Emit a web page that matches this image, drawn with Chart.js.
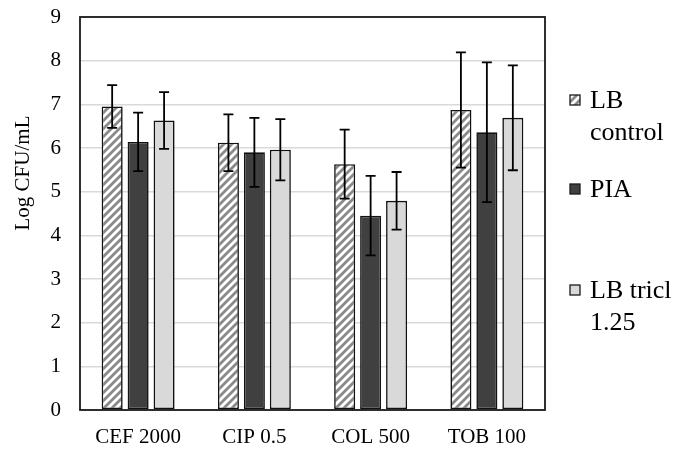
<!DOCTYPE html>
<html>
<head>
<meta charset="utf-8">
<script src="https://cdn.jsdelivr.net/npm/chart.js@4.4.1/dist/chart.umd.min.js"></script>
<style>
  html, body { margin: 0; padding: 0; background: #fff; }
  #wrap { width: 683px; height: 451px; }
</style>
</head>
<body>
<div id="wrap"><canvas id="chart"></canvas></div>
<script>
// Data
const categories = ['CEF 2000', 'CIP 0.5', 'COL 500', 'TOB 100'];
const seriesNames = [['LB', 'control'], ['PIA'], ['LB tricl', '1.25']];
const lbControl = [6.95, 6.12, 5.63, 6.87];
const lbControlErr = [0.49, 0.65, 0.79, 1.32];
const pia = [6.14, 5.90, 4.45, 6.36];
const piaErr = [0.67, 0.79, 0.91, 1.60];
const lbTricl = [6.63, 5.96, 4.79, 6.69];
const lbTriclErr = [0.65, 0.70, 0.66, 1.20];
const yTicks = [0, 1, 2, 3, 4, 5, 6, 7, 8, 9];
const yTitle = 'Log CFU/mL';

const FONT = "'Liberation Serif', 'Times New Roman', Times, serif";

// Diagonal stripe fill for the control series
function makeHatch() {
    const c = document.createElement('canvas');
    c.width = 8; c.height = 8;
    const g = c.getContext('2d');
    g.fillStyle = '#fff';
    g.fillRect(0, 0, 8, 8);
    g.strokeStyle = '#8a8a8a';
    g.lineWidth = 2.8;
    g.beginPath();
    g.moveTo(-2, 10); g.lineTo(10, -2);
    g.moveTo(-6, 6); g.lineTo(6, -6);
    g.moveTo(2, 14); g.lineTo(14, 2);
    g.stroke();
    return g.createPattern(c, 'repeat');
}
const hatch = makeHatch();

// Error bars drawn on top of each bar
const errorBars = {
    id: 'errorBars',
    afterDatasetsDraw(chart) {
        const ctx = chart.ctx;
        const y = chart.scales.y;
        ctx.save();
        ctx.strokeStyle = '#000';
        ctx.lineWidth = 1.8;
        chart.data.datasets.forEach((ds, i) => {
            const meta = chart.getDatasetMeta(i);
            meta.data.forEach((bar, j) => {
                const v = ds.data[j], e = ds.errors[j];
                const top = y.getPixelForValue(v + e);
                const bot = y.getPixelForValue(v - e);
                ctx.beginPath();
                ctx.moveTo(bar.x, top); ctx.lineTo(bar.x, bot);
                ctx.moveTo(bar.x - 5, top); ctx.lineTo(bar.x + 5, top);
                ctx.moveTo(bar.x - 5, bot); ctx.lineTo(bar.x + 5, bot);
                ctx.stroke();
            });
        });
        ctx.restore();
    }
};

// Box around the plot area, axis title and the legend on the right
const frameAndLegend = {
    id: 'frameAndLegend',
    afterDraw(chart) {
        const ctx = chart.ctx;
        const a = chart.chartArea;
        ctx.save();
        ctx.strokeStyle = '#1a1a1a';
        ctx.lineWidth = 1.8;
        ctx.strokeRect(a.left, a.top, a.right - a.left, a.bottom - a.top);

        // rotated y title, sitting a bit above the middle of the axis
        ctx.save();
        ctx.translate(23, 173);
        ctx.rotate(-Math.PI / 2);
        ctx.font = '21px ' + FONT;
        ctx.fillStyle = '#000';
        ctx.textAlign = 'center';
        ctx.textBaseline = 'middle';
        ctx.fillText(yTitle, 0, 0);
        ctx.restore();

        const itemTops = [100, 189, 290];
        const lineH = 32;
        ctx.font = '26px ' + FONT;
        ctx.textBaseline = 'middle';
        chart.data.datasets.forEach((ds, i) => {
            const ty = itemTops[i];
            ctx.fillStyle = ds.backgroundColor;
            ctx.fillRect(570, ty - 5, 10, 10);
            ctx.strokeStyle = '#1a1a1a';
            ctx.lineWidth = 1.3;
            ctx.strokeRect(570, ty - 5, 10, 10);
            ctx.fillStyle = '#000';
            ds.label.forEach((line, k) => {
                ctx.fillText(line, 590, ty + 1 + k * lineH);
            });
        });
        ctx.restore();
    }
};

function dataset(label, data, errors, fill) {
    return {
        label, data, errors,
        backgroundColor: fill,
        borderColor: '#111',
        borderWidth: 1.6,
        borderSkipped: false,
        categoryPercentage: 0.67,
        barPercentage: 0.81
    };
}

new Chart(document.getElementById('chart'), {
    type: 'bar',
    data: {
        labels: categories,
        datasets: [
            dataset(seriesNames[0], lbControl, lbControlErr, hatch),
            dataset(seriesNames[1], pia, piaErr, '#404040'),
            dataset(seriesNames[2], lbTricl, lbTriclErr, '#d9d9d9')
        ]
    },
    options: {
        responsive: true,
        maintainAspectRatio: false,
        animation: false,
        layout: { padding: { top: 17, right: 138, left: 0, bottom: 0 } },
        plugins: {
            legend: { display: false },
            tooltip: { enabled: false }
        },
        scales: {
            x: {
                grid: { display: false, drawTicks: false },
                border: { display: false },
                ticks: { color: '#000', font: { family: FONT, size: 21 }, padding: 15 },
                afterFit(s) { s.height = 41; s.paddingLeft = 0; s.paddingRight = 0; }
            },
            y: {
                min: yTicks[0],
                max: yTicks[yTicks.length - 1],
                afterBuildTicks(s) { s.ticks = yTicks.map(v => ({ value: v })); },
                grid: { color: '#d9d9d9', lineWidth: 1.6, drawTicks: false },
                border: { display: false },
                ticks: { color: '#000', font: { family: FONT, size: 21 }, padding: 19 },
                afterFit(s) { s.width = 80; s.paddingTop = 0; s.paddingBottom = 0; }
            }
        }
    },
    plugins: [errorBars, frameAndLegend]
});
</script>
</body>
</html>
